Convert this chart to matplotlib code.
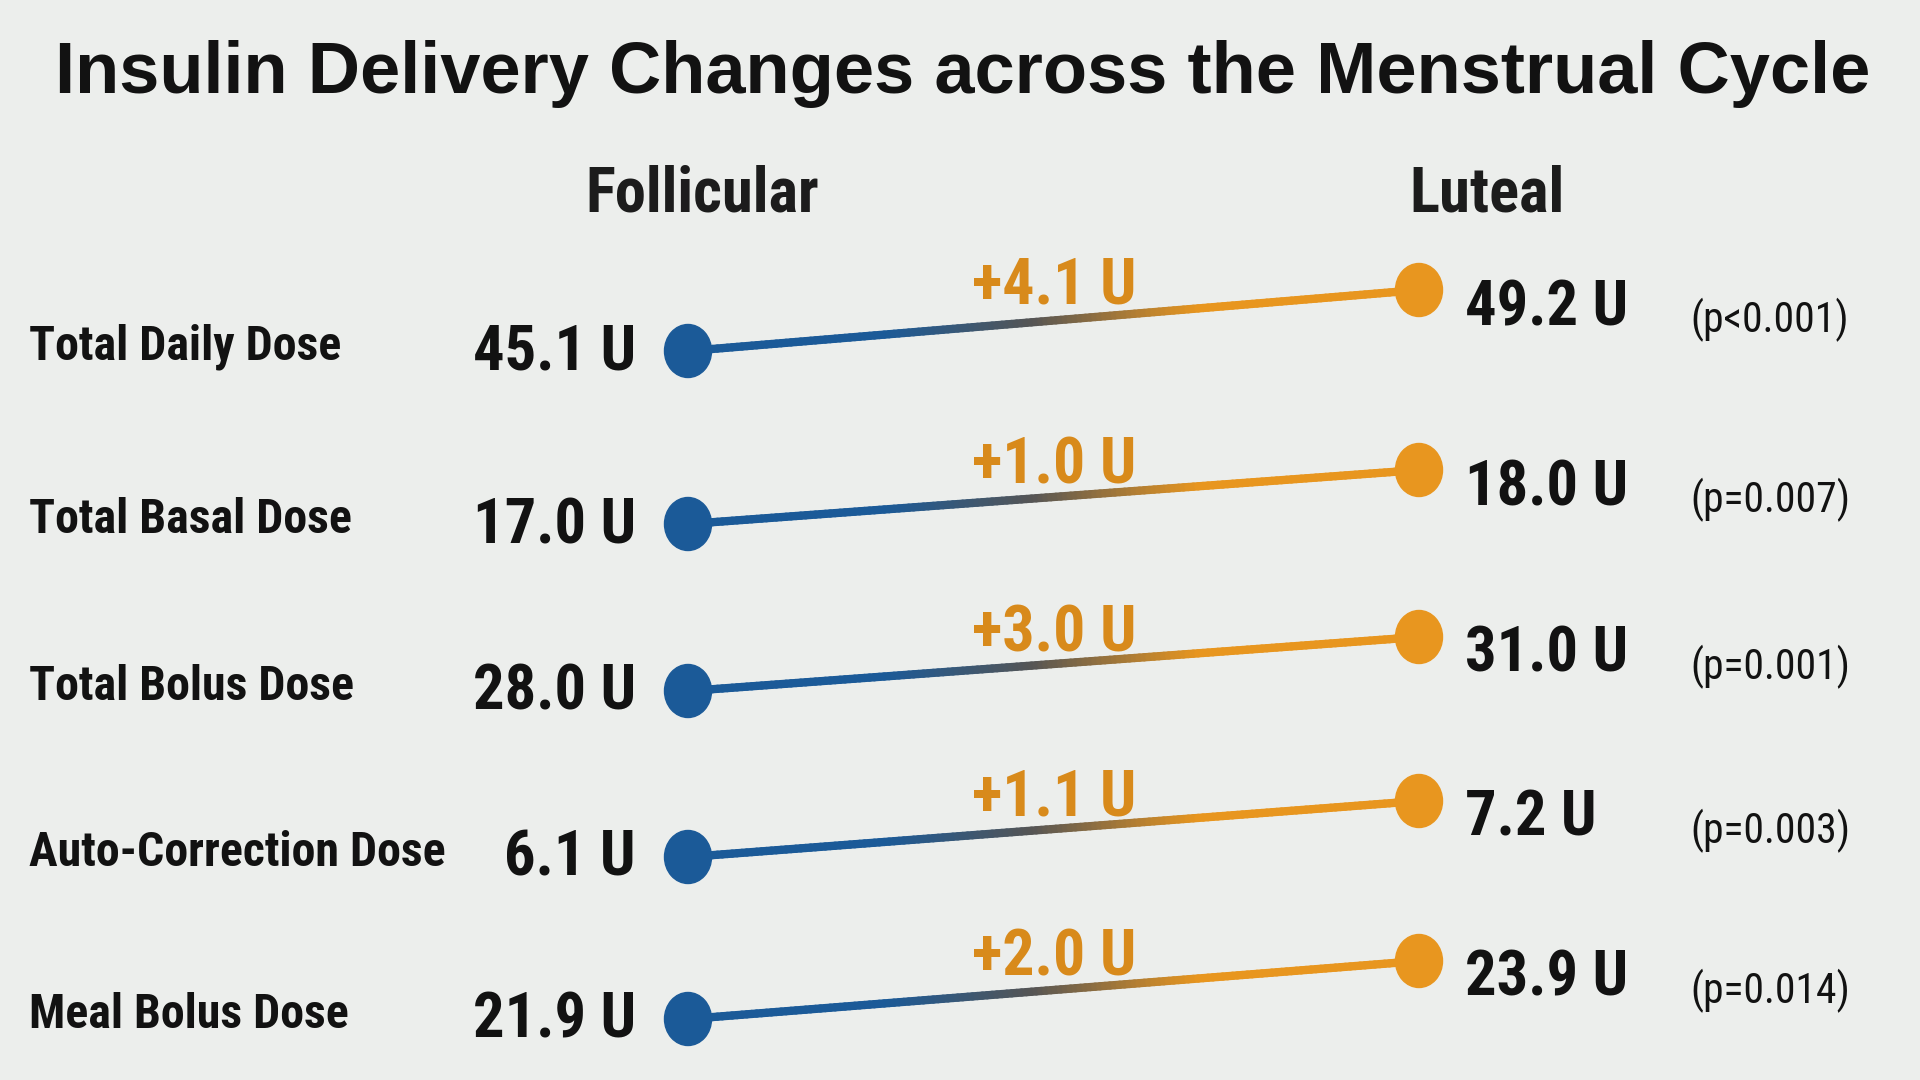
import matplotlib.pyplot as plt
import numpy as np
from matplotlib import font_manager as fm
from matplotlib.collections import LineCollection
from matplotlib.colors import LinearSegmentedColormap
from matplotlib.patches import Ellipse

categories = ["Total Daily Dose", "Total Basal Dose", "Total Bolus Dose",
              "Auto-Correction Dose", "Meal Bolus Dose"]
follicular = [45.1, 17.0, 28.0, 6.1, 21.9]
luteal = [49.2, 18.0, 31.0, 7.2, 23.9]
changes = ["+4.1 U", "+1.0 U", "+3.0 U", "+1.1 U", "+2.0 U"]
p_values = ["(p<0.001)", "(p=0.007)", "(p=0.001)", "(p=0.003)", "(p=0.014)"]
phases = ["Follicular", "Luteal"]

BG = "#eceeec"
BLUE = "#1b5a98"
ORANGE = "#e8961f"
ORANGE_TXT = "#d88a1b"
INK = "#121212"

# pick a condensed face if one is installed
installed = {f.name for f in fm.fontManager.ttflist}
narrow = None
for cand in ["Liberation Sans Narrow", "Roboto Condensed", "Noto Sans Condensed",
             "Noto Sans SemiCondensed", "Open Sans Condensed", "DejaVu Sans Condensed"]:
    if cand in installed:
        narrow = cand
        break
if narrow is None:
    narrow = "Liberation Sans"
fam = [narrow, "Liberation Sans", "DejaVu Sans"]

fig = plt.figure(figsize=(19.2, 10.8), dpi=100, facecolor=BG)
ax = fig.add_axes([0, 0, 1, 1])
ax.set_facecolor(BG)
ax.set_xlim(0, 1920)
ax.set_ylim(1080, 0)
ax.axis("off")

x_fol, x_lut = 688, 1419
fol_y = [351, 524, 691, 857, 1019]
lut_y = [290, 470, 637, 801, 961]

cmap = LinearSegmentedColormap.from_list(
    "fade", [(0, BLUE), (0.27, BLUE), (0.47, "#555555"), (0.7, ORANGE), (1, ORANGE)])

ax.text(963, 93, "Insulin Delivery Changes across the Menstrual Cycle",
        ha="center", va="baseline", fontsize=52, fontweight="bold",
        color=INK, family=["Liberation Sans", "DejaVu Sans"])
ax.text(702, 212, phases[0], ha="center", va="baseline", fontsize=45,
        fontweight="bold", color="#1c1c1c", family=fam)
ax.text(1487, 212, phases[1], ha="center", va="baseline", fontsize=45,
        fontweight="bold", color="#1c1c1c", family=fam)

for i, cat in enumerate(categories):
    y0, y1 = fol_y[i], lut_y[i]

    # gradient connector
    t = np.linspace(0, 1, 150)
    xs = x_fol + (x_lut - x_fol) * t
    ys = y0 + (y1 - y0) * t
    pts = np.column_stack([xs, ys]).reshape(-1, 1, 2)
    segs = np.concatenate([pts[:-1], pts[1:]], axis=1)
    lc = LineCollection(segs, colors=cmap(t[:-1]), linewidths=6, capstyle="round")
    ax.add_collection(lc)

    ax.add_patch(Ellipse((x_fol, y0), 47, 53, color=BLUE, zorder=3))
    ax.add_patch(Ellipse((x_lut, y1), 47, 53, color=ORANGE, zorder=3))

    ax.text(29, y0 + 9, cat, ha="left", va="baseline", fontsize=34.5,
            fontweight="bold", color=INK, family=fam)
    ax.text(636, y0 + 19, f"{follicular[i]:.1f} U", ha="right", va="baseline",
            fontsize=45, fontweight="bold", color=INK, family=fam)
    ax.text(1465, y1 + 35, f"{luteal[i]:.1f} U", ha="left", va="baseline",
            fontsize=45, fontweight="bold", color=INK, family=fam)
    ax.text(1690, y1 + 42, p_values[i], ha="left", va="baseline",
            fontsize=30, color=INK, family=fam)
    ax.text(1054, y1 + 14, changes[i], ha="center", va="baseline",
            fontsize=46, fontweight="bold", color=ORANGE_TXT, family=fam)

fig.savefig("out.png", dpi=100, facecolor=BG)
